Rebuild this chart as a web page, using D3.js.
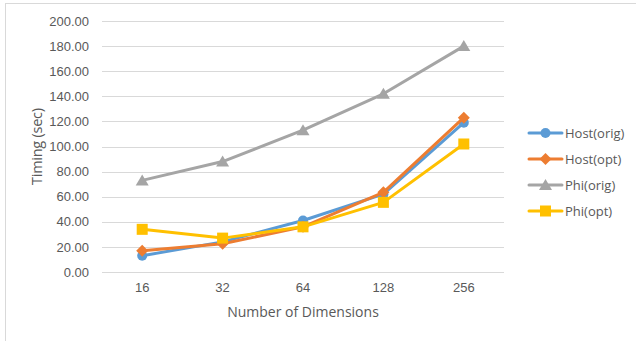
<!DOCTYPE html>
<html>
<head>
<meta charset="utf-8">
<script src="https://cdn.jsdelivr.net/npm/d3@7"></script>
<style>
  html, body { margin: 0; padding: 0; background: #fff; }
  svg { display: block; font-family: "Open Sans", "Liberation Sans", sans-serif; }
</style>
</head>
<body>
<svg id="chart" width="636" height="341"></svg>
<script>
const categories = ["16", "32", "64", "128", "256"];
const hostOrig = [13, 24, 41, 62, 119];
const hostOpt  = [17, 22.5, 36, 63.5, 123];
const phiOrig  = [73, 88, 113, 142, 180];
const phiOpt   = [34, 27, 36, 55.5, 102];
const yTicks   = [0, 20, 40, 60, 80, 100, 120, 140, 160, 180, 200];

const series = [
  { name: "Host(orig)", values: hostOrig, color: "#5b9bd5", marker: "circle" },
  { name: "Host(opt)",  values: hostOpt,  color: "#ed7d31", marker: "diamond" },
  { name: "Phi(orig)",  values: phiOrig,  color: "#a5a5a5", marker: "triangle" },
  { name: "Phi(opt)",   values: phiOpt,   color: "#ffc000", marker: "square" }
];

const svg = d3.select("#chart");
const textColor = "#595959";

// chart frame
svg.append("rect")
  .attr("x", 5.5).attr("y", 3.5)
  .attr("width", 640).attr("height", 350)
  .attr("fill", "#fff").attr("stroke", "#d9d9d9").attr("stroke-width", 1);

const plot = { left: 102, right: 504, top: 21, bottom: 272 };

const x = d3.scaleBand().domain(categories).range([plot.left, plot.right]);
const y = d3.scaleLinear().domain([0, 200]).range([plot.bottom, plot.top]);

// horizontal gridlines
svg.append("g")
  .selectAll("line")
  .data(yTicks)
  .join("line")
  .attr("x1", plot.left).attr("x2", plot.right)
  .attr("y1", d => Math.round(y(d)) + 0.5).attr("y2", d => Math.round(y(d)) + 0.5)
  .attr("stroke", "#d9d9d9").attr("stroke-width", 1);

// y axis labels
const yAxis = d3.axisLeft(y).tickValues(yTicks).tickFormat(d3.format(".2f")).tickSize(0).tickPadding(0);
const yg = svg.append("g").attr("transform", `translate(${plot.left - 13},0)`).call(yAxis);
yg.select(".domain").remove();
yg.selectAll("text").attr("fill", textColor).style("font-size", "13px");

// x axis labels
const xAxis = d3.axisBottom(x).tickSize(0).tickPadding(0);
const xg = svg.append("g").attr("transform", `translate(0,${plot.bottom + 11})`).call(xAxis);
xg.select(".domain").remove();
xg.selectAll("text").attr("fill", textColor).style("font-size", "13px");

// axis titles
svg.append("text")
  .attr("x", 303).attr("y", 317)
  .attr("text-anchor", "middle")
  .attr("fill", textColor).style("font-size", "14px")
  .text("Number of Dimensions");

svg.append("text")
  .attr("transform", "translate(42,146.5) rotate(-90)")
  .attr("text-anchor", "middle")
  .attr("textLength", 77).attr("lengthAdjust", "spacing")
  .attr("fill", textColor).style("font-size", "14.5px")
  .text("Timing (sec)");

// marker shapes
function drawMarker(g, type, cx, cy, color) {
  if (type === "circle") {
    g.append("circle").attr("cx", cx).attr("cy", cy).attr("r", 5).attr("fill", color);
  } else if (type === "diamond") {
    g.append("path").attr("d", `M${cx},${cy - 6}L${cx + 6},${cy}L${cx},${cy + 6}L${cx - 6},${cy}Z`).attr("fill", color);
  } else if (type === "triangle") {
    g.append("path").attr("d", `M${cx},${cy - 6}L${cx + 6.5},${cy + 5}L${cx - 6.5},${cy + 5}Z`).attr("fill", color);
  } else {
    g.append("rect").attr("x", cx - 5.5).attr("y", cy - 5.5).attr("width", 11).attr("height", 11).attr("fill", color);
  }
}

const line = d3.line()
  .x((d, i) => x(categories[i]) + x.bandwidth() / 2)
  .y(d => y(d));

series.forEach(s => {
  const g = svg.append("g");
  g.append("path")
    .attr("d", line(s.values))
    .attr("fill", "none").attr("stroke", s.color)
    .attr("stroke-width", 3).attr("stroke-linejoin", "round").attr("stroke-linecap", "round");
  s.values.forEach((v, i) => {
    drawMarker(g, s.marker, x(categories[i]) + x.bandwidth() / 2, y(v), s.color);
  });
});

// legend
const legendY = [133, 159, 185, 211];
series.forEach((s, i) => {
  const g = svg.append("g");
  const ly = legendY[i];
  g.append("line")
    .attr("x1", 529).attr("x2", 562).attr("y1", ly).attr("y2", ly)
    .attr("stroke", s.color).attr("stroke-width", 3).attr("stroke-linecap", "round");
  drawMarker(g, s.marker, 545.5, ly, s.color);
  g.append("text")
    .attr("x", 565).attr("y", ly).attr("dy", "0.35em")
    .attr("fill", textColor).style("font-size", "13px")
    .text(s.name);
});
</script>
</body>
</html>
